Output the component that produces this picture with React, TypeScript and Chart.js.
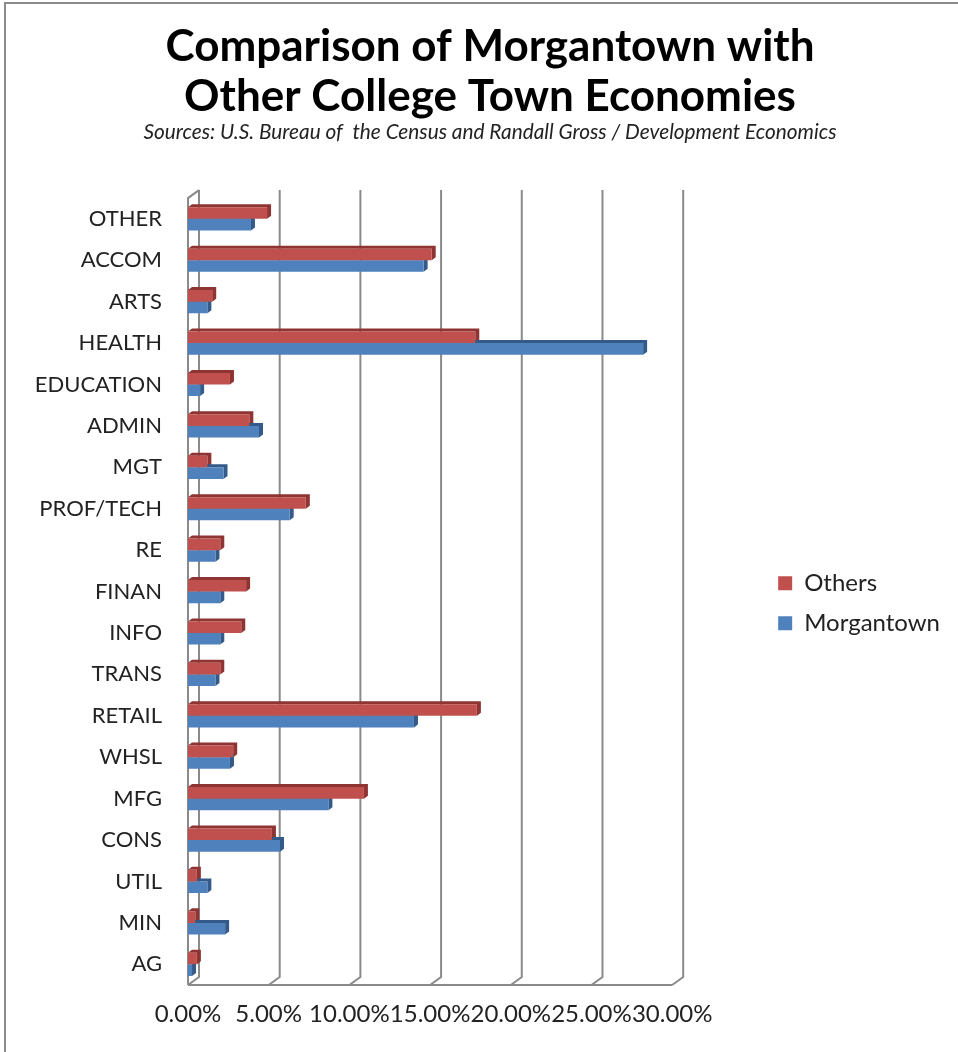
import React, { useEffect, useRef } from "react";
import { Chart, registerables } from "chart.js";

Chart.register(...registerables);

const categories = ["OTHER", "ACCOM", "ARTS", "HEALTH", "EDUCATION", "ADMIN", "MGT", "PROF/TECH", "RE", "FINAN", "INFO", "TRANS", "RETAIL", "WHSL", "MFG", "CONS", "UTIL", "MIN", "AG"];
const othersValues = [4.9, 15.1, 1.5, 17.8, 2.6, 3.8, 1.2, 7.3, 2.0, 3.6, 3.3, 2.0, 17.9, 2.8, 10.9, 5.2, 0.55, 0.45, 0.55];
const morgantownValues = [3.9, 14.6, 1.2, 28.2, 0.75, 4.4, 2.2, 6.3, 1.7, 2.0, 2.0, 1.7, 14.0, 2.6, 8.7, 5.7, 1.2, 2.3, 0.25];
const seriesNames = ["Others", "Morgantown"];
const titleLines = ["Comparison of Morgantown with", "Other College Town Economies"];
const subtitleText = "Sources: U.S. Bureau of  the Census and Randall Gross / Development Economics";
const xMin = 0;
const xMax = 30;
const xStep = 5;

const FONT = "Lato, 'Open Sans', sans-serif";
const RED = "#C0504D";
const BLUE = "#4F81BD";
const RED_DARK = "#8E3432";
const BLUE_DARK = "#335A88";
const GRID = "#8A8A8A";
const DX = 11;
const DY = 8;
const CAP_DX = 4;
const CAP_DY = 3;

const frame3d = {
  id: "frame3d",
  beforeDraw(chart: any) {
    const { ctx, width, height } = chart;
    ctx.save();
    ctx.fillStyle = "#ffffff";
    ctx.fillRect(0, 0, width, height);
    ctx.strokeStyle = "#8a8a8a";
    ctx.lineWidth = 2;
    ctx.beginPath();
    ctx.moveTo(5, height);
    ctx.lineTo(5, 3);
    ctx.lineTo(width, 3);
    ctx.stroke();
    ctx.restore();
  },
  beforeDatasetsDraw(chart: any) {
    const { ctx, chartArea } = chart;
    const xs = chart.scales.x;
    const { top, bottom, left, right } = chartArea;
    ctx.save();
    ctx.strokeStyle = GRID;
    ctx.lineWidth = 2;
    ctx.lineCap = "butt";
    ctx.beginPath();
    ctx.moveTo(left, bottom);
    ctx.lineTo(left, top);
    ctx.lineTo(left + DX, top - DY);
    ctx.stroke();
    ctx.beginPath();
    ctx.moveTo(left, bottom);
    ctx.lineTo(right, bottom);
    ctx.stroke();
    for (let v = xMin; v <= xMax + 1e-9; v += xStep) {
      const px = xs.getPixelForValue(v);
      ctx.beginPath();
      ctx.moveTo(px + DX, top - DY);
      ctx.lineTo(px + DX, bottom - DY);
      ctx.lineTo(px, bottom);
      ctx.stroke();
    }
    chart.data.datasets.forEach((ds: any, i: number) => {
      const meta = chart.getDatasetMeta(i);
      const dark = i === 0 ? RED_DARK : BLUE_DARK;
      meta.data.forEach((bar: any) => {
        const t = bar.y - bar.height / 2;
        const b = bar.y + bar.height / 2;
        const x0 = bar.base;
        const x1 = bar.x;
        ctx.fillStyle = dark;
        ctx.beginPath();
        ctx.moveTo(x0, t);
        ctx.lineTo(x0 + CAP_DX, t - CAP_DY);
        ctx.lineTo(x1 + CAP_DX, t - CAP_DY);
        ctx.lineTo(x1 + CAP_DX, b - CAP_DY);
        ctx.lineTo(x1, b);
        ctx.lineTo(x1, t);
        ctx.closePath();
        ctx.fill();
      });
    });
    ctx.restore();
  },
};

export default function App() {
  const canvasRef = useRef<HTMLCanvasElement | null>(null);

  useEffect(() => {
    const canvas = canvasRef.current;
    if (!canvas) return;
    const chart = new Chart(canvas, {
      type: "bar",
      data: {
        labels: categories,
        datasets: [
          {
            label: seriesNames[0],
            data: othersValues,
            backgroundColor: RED,
            borderWidth: 0,
            barPercentage: 1,
            categoryPercentage: 0.56,
          },
          {
            label: seriesNames[1],
            data: morgantownValues,
            backgroundColor: BLUE,
            borderWidth: 0,
            barPercentage: 1,
            categoryPercentage: 0.56,
          },
        ],
      },
      options: {
        indexAxis: "y",
        responsive: false,
        animation: false,
        layout: { padding: { left: 30, right: 8, top: 0, bottom: 0 } },
        scales: {
          x: {
            min: xMin,
            max: xMax,
            grid: { display: false, drawTicks: false },
            border: { display: false },
            ticks: {
              stepSize: xStep,
              padding: 15,
              color: "#222",
              font: { family: FONT, size: 24 },
              maxRotation: 0,
              autoSkip: false,
              callback: (v: any) => Number(v).toFixed(2) + "%",
            },
            afterFit: (s: any) => {
              s.height = 67;
            },
          },
          y: {
            grid: { display: false, drawTicks: false },
            border: { display: false },
            ticks: {
              padding: 26,
              color: "#222",
              font: { family: FONT, size: 22 },
              autoSkip: false,
            },
            afterFit: (s: any) => {
              s.width = 158;
            },
          },
          yR: {
            type: "category",
            position: "right",
            display: true,
            grid: { display: false, drawTicks: false },
            border: { display: false },
            ticks: { display: false },
            afterFit: (s: any) => {
              s.width = 90;
            },
          },
        },
        plugins: {
          legend: {
            position: "right",
            maxWidth: 400,
            title: {
              display: true,
              text: " ",
              font: { family: FONT, size: 12 },
              padding: { top: 140, bottom: 0 },
            },
            labels: {
              boxWidth: 14,
              boxHeight: 14,
              padding: 16,
              color: "#222",
              font: { family: FONT, size: 24 },
            },
          },
          title: {
            display: true,
            text: titleLines,
            color: "#000",
            font: { family: FONT, size: 44, weight: "bold", lineHeight: 1.14 },
            padding: { top: 22, bottom: 0 },
          },
          subtitle: {
            display: true,
            text: subtitleText,
            color: "#222",
            font: { family: FONT, size: 20.8, style: "italic", lineHeight: 1.0 },
            padding: { top: 0, bottom: 55 },
          },
          tooltip: { enabled: false },
        },
      },
      plugins: [frame3d],
    });
    return () => chart.destroy();
  }, []);

  return (
    <div style={{ position: "absolute", left: 0, top: 0, width: 958, height: 1052, background: "#fff" }}>
      <canvas ref={canvasRef} width={958} height={1052} style={{ width: 958, height: 1052, display: "block" }} />
    </div>
  );
}
